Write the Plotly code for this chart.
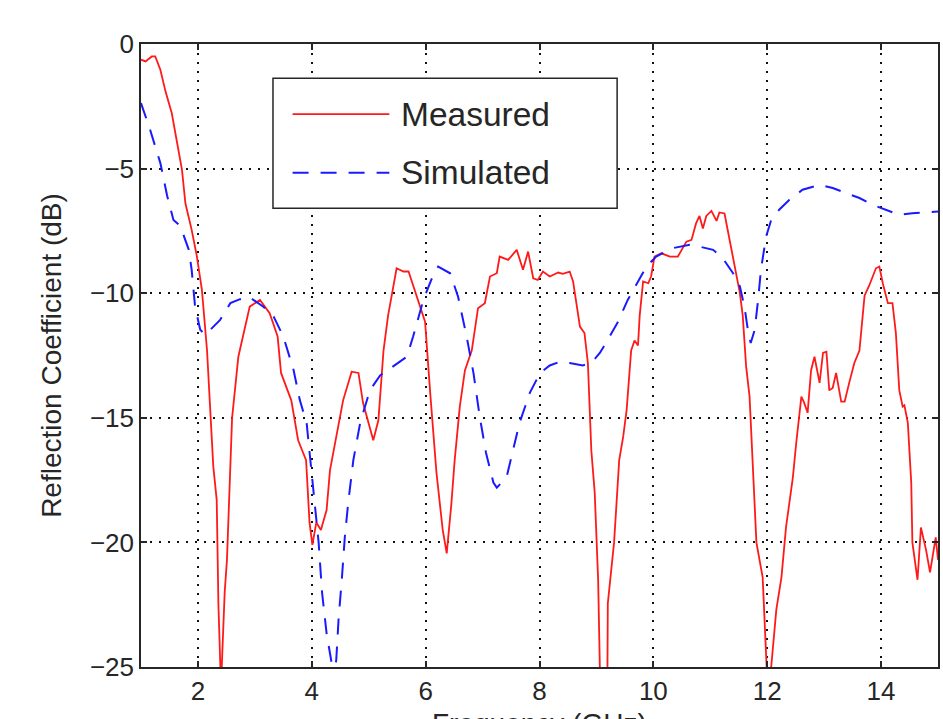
import plotly.graph_objects as go

# Measured reflection coefficient (dB) vs frequency (GHz)
meas_freq = [1.00, 1.08, 1.19, 1.25, 1.34, 1.43, 1.54, 1.63, 1.72, 1.78, 1.89, 1.98,
             2.07, 2.16, 2.22, 2.27, 2.33, 2.36, 2.405, 2.44, 2.47, 2.51, 2.57, 2.60,
             2.71, 2.91, 3.09, 3.26, 3.40, 3.46, 3.64, 3.76, 3.90, 3.93, 3.96, 4.01,
             4.08, 4.16, 4.26, 4.32, 4.55, 4.70, 4.82, 4.90, 5.08, 5.17, 5.26, 5.34,
             5.49, 5.61, 5.70, 5.84, 5.99, 6.08, 6.19, 6.30, 6.37, 6.45, 6.51, 6.60,
             6.69, 6.81, 6.92, 7.04, 7.13, 7.25, 7.30, 7.45, 7.60, 7.71, 7.80, 7.89,
             7.97, 8.06, 8.18, 8.33, 8.41, 8.53, 8.59, 8.71, 8.79, 8.85, 8.91, 8.97,
             9.03, 9.06, 9.12, 9.19, 9.20, 9.31, 9.40, 9.47, 9.53, 9.61, 9.67, 9.73,
             9.76, 9.82, 9.91, 9.96, 10.02, 10.14, 10.29, 10.43, 10.58, 10.67, 10.75,
             10.81, 10.87, 10.93, 11.02, 11.11, 11.16, 11.25, 11.34, 11.43, 11.52,
             11.57, 11.63, 11.69, 11.75, 11.81, 11.92, 11.99, 12.03, 12.07, 12.16,
             12.25, 12.33, 12.45, 12.51, 12.60, 12.65, 12.71, 12.77, 12.83, 12.92,
             12.98, 13.04, 13.09, 13.15, 13.21, 13.30, 13.36, 13.44, 13.53, 13.62,
             13.71, 13.79, 13.91, 13.97, 14.03, 14.12, 14.20, 14.26, 14.32, 14.38,
             14.41, 14.47, 14.53, 14.55, 14.64, 14.70, 14.79, 14.86, 14.96, 15.00]
meas_db = [-0.63, -0.70, -0.50, -0.50, -1.03, -1.90, -2.77, -3.84, -5.05, -6.39, -7.46, -8.50,
           -9.87, -12.30, -14.96, -16.96, -18.30, -22.50, -25.80, -23.50, -22.00, -20.70, -17.00, -15.00,
           -12.55, -10.54, -10.27, -10.80, -11.74, -13.20, -14.30, -15.90, -16.70, -17.90, -19.20, -20.10,
           -19.20, -19.50, -18.70, -17.10, -14.30, -13.15, -13.20, -14.40, -15.90, -15.10, -12.30, -10.90,
           -9.00, -9.13, -9.13, -10.10, -11.14, -14.00, -17.20, -19.50, -20.44, -18.50, -16.70, -14.55,
           -13.10, -12.30, -10.60, -10.40, -9.33, -9.20, -8.53, -8.66, -8.26, -9.06, -8.33, -9.40,
           -9.47, -9.13, -9.33, -9.17, -9.22, -9.13, -9.53, -11.34, -11.60, -12.80, -16.30, -18.00,
           -21.50, -25.00, -28.00, -26.50, -22.45, -20.00, -16.70, -15.76, -14.70, -12.30, -11.90, -12.10,
           -10.90, -9.53, -9.60, -9.33, -8.53, -8.40, -8.53, -8.53, -7.93, -7.86, -7.20,
           -6.90, -7.40, -6.90, -6.70, -7.10, -6.76, -6.80, -7.86, -8.80, -10.00,
           -10.90, -12.95, -14.15, -17.00, -20.00, -21.40, -25.00, -25.60, -25.00, -22.70,
           -21.40, -19.40, -17.40, -16.00, -14.15, -14.40, -14.80, -13.10, -12.55, -13.60,
           -12.40, -12.35, -13.90, -13.80, -13.20, -14.35, -14.35, -13.60, -12.80, -12.30,
           -10.10, -9.70, -9.00, -8.93, -9.60, -10.40, -10.40, -11.60, -13.90, -14.55,
           -14.50, -15.20, -17.60, -20.00, -21.50, -19.40, -20.30, -21.20, -19.80, -20.70]

# Simulated reflection coefficient (dB) vs frequency (GHz)
sim_freq = [1.00, 1.16, 1.34, 1.46, 1.57, 1.69, 1.84, 1.89, 1.95, 2.04, 2.13, 2.27,
            2.39, 2.57, 2.74, 2.89, 3.15, 3.33, 3.50, 3.68, 3.79, 3.91, 3.97, 4.02,
            4.06, 4.12, 4.18, 4.26, 4.35, 4.39, 4.43, 4.47, 4.53, 4.58, 4.64, 4.73,
            4.85, 5.02, 5.20, 5.43, 5.67, 5.78, 5.96, 6.11, 6.22, 6.43, 6.57, 6.72,
            6.84, 6.95, 7.06, 7.19, 7.25, 7.42, 7.54, 7.65, 7.83, 8.01, 8.18, 8.36,
            8.53, 8.76, 8.91, 9.06, 9.20, 9.38, 9.55, 9.73, 9.88, 10.05, 10.23, 10.32,
            10.64, 10.81, 11.05, 11.22, 11.40, 11.52, 11.60, 11.66, 11.71, 11.78, 11.84,
            11.89, 11.98, 12.07, 12.21, 12.39, 12.62, 12.92, 13.15, 13.39, 13.62, 13.85,
            14.09, 14.32, 14.55, 15.00]
sim_db = [-2.37, -3.44, -4.78, -6.10, -7.06, -7.30, -8.26, -9.06, -10.54, -11.47, -11.67, -11.34,
          -11.07, -10.40, -10.24, -10.14, -10.54, -10.94, -11.74, -13.08, -14.29, -15.22, -16.56, -17.60,
          -18.70, -20.00, -22.00, -23.65, -24.86, -25.60, -24.70, -23.10, -21.40, -19.80, -18.40, -16.70,
          -15.20, -13.90, -13.30, -12.95, -12.55, -11.74, -10.27, -9.40, -8.93, -9.20, -10.14, -11.74,
          -13.20, -14.96, -16.40, -17.60, -17.80, -17.40, -16.30, -15.20, -14.00, -13.20, -12.90, -12.75,
          -12.80, -12.90, -12.80, -12.40, -11.87, -11.14, -10.27, -9.53, -8.93, -8.53, -8.33, -8.20,
          -8.06, -8.13, -8.26, -8.60, -9.20, -9.73, -10.54, -11.47, -12.00, -11.47, -10.27,
          -9.06, -7.73, -7.06, -6.65, -6.25, -5.85, -5.65, -5.78, -5.98, -6.18, -6.45,
          -6.65, -6.86, -6.79, -6.72]

x_ticks = [2, 4, 6, 8, 10, 12, 14]
y_ticks = [0, -5, -10, -15, -20, -25]
series_names = ["Measured", "Simulated"]

FONT = "Arial, Liberation Sans, sans-serif"
INK = "#262626"
RED = "#ff1a1a"
BLUE = "#1a1aff"
SIM_DASH = "16px,12px"

fig = go.Figure()
fig.add_trace(go.Scatter(x=meas_freq, y=meas_db, mode="lines", name=series_names[0],
                         line=dict(color=RED, width=1.8)))
fig.add_trace(go.Scatter(x=sim_freq, y=sim_db, mode="lines", name=series_names[1],
                         line=dict(color=BLUE, width=2, dash=SIM_DASH)))

axis_common = dict(
    showline=True, linecolor=INK, linewidth=1.5, mirror="ticks",
    ticks="inside", ticklen=6, tickcolor=INK, tickwidth=1.5,
    showgrid=True, gridcolor="#111111", gridwidth=1.5, griddash="2px,7px",
    zeroline=False, tickfont=dict(family=FONT, size=26, color=INK),
)

fig.update_xaxes(range=[1, 15], tickvals=x_ticks, **axis_common)
fig.update_yaxes(range=[-25, 0], tickvals=y_ticks,
                 title=dict(text="Reflection Coefficient (dB)",
                            font=dict(family=FONT, size=28, color=INK), standoff=20),
                 **axis_common)

fig.add_annotation(text="Frequency (GHz)", xref="paper", yref="paper",
                   x=0.5, y=0, xanchor="center", yanchor="top", yshift=-39,
                   showarrow=False, font=dict(family=FONT, size=28, color=INK))

# Boxed key in the upper-left part of the axes
box = dict(x0=0.1656, x1=0.5974, y0=0.7363, y1=0.9449)
fig.add_shape(type="rect", xref="paper", yref="paper", layer="above",
              line=dict(color=INK, width=1.5), fillcolor="white", **box)
key_rows = [(series_names[0], 0.8876, dict(color=RED, width=1.8)),
            (series_names[1], 0.7934, dict(color=BLUE, width=2, dash=SIM_DASH))]
for label, ky, style in key_rows:
    fig.add_shape(type="line", xref="paper", yref="paper", layer="above",
                  x0=0.1902, x1=0.3116, y0=ky, y1=ky, line=style)
    fig.add_annotation(text=label, xref="paper", yref="paper", x=0.3240, y=ky,
                       xanchor="left", yanchor="middle", showarrow=False,
                       font=dict(family=FONT, size=33.5, color=INK))

fig.update_layout(
    width=943, height=719,
    margin=dict(l=141, r=3, t=44, b=52),
    paper_bgcolor="white", plot_bgcolor="white",
    showlegend=False,
)

fig.write_html("out.html")
